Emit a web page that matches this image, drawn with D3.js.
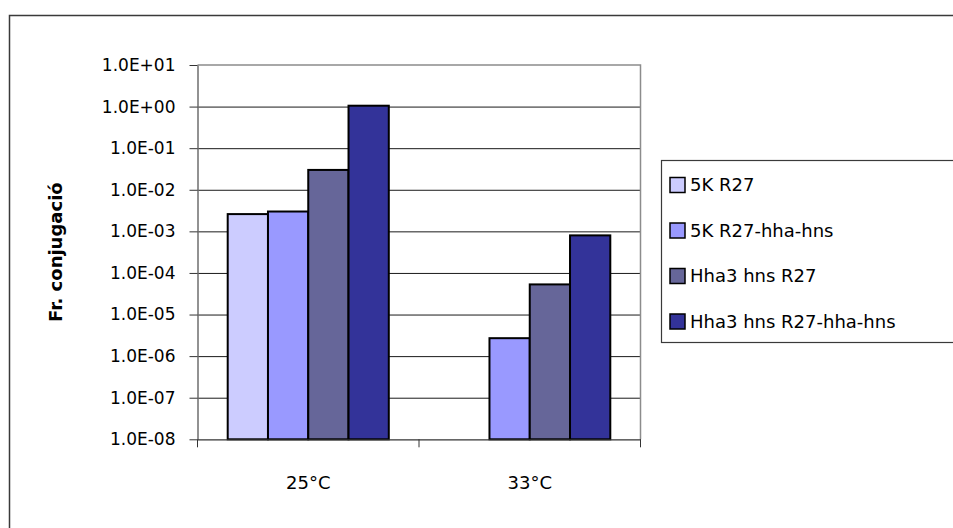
<!DOCTYPE html>
<html>
<head>
<meta charset="utf-8">
<script src="https://cdn.jsdelivr.net/npm/d3@7"></script>
<style>
  body { margin: 0; background: #fff; }
  svg text { font-family: "Comic Sans MS", "DejaVu Sans", sans-serif; fill: #000; }
</style>
</head>
<body>
<div id="chart"></div>
<script>

// data
let categories = ['25°C', '33°C'];
let seriesNames = ['5K R27', '5K R27-hha-hns', 'Hha3 hns R27', 'Hha3 hns R27-hha-hns'];
let seriesColors = ['#ccccff', '#9999ff', '#666699', '#333399'];
let s5kR27 = [2.6e-3, null];
let s5kR27hha = [3.0e-3, 2.7e-6];
let sHha3R27 = [3.0e-2, 5.3e-5];
let sHha3R27hha = [1.05, 8.0e-4];
let yTicks = [1e-8, 1e-7, 1e-6, 1e-5, 1e-4, 1e-3, 1e-2, 1e-1, 1e0, 1e1];

let allSeries = [s5kR27, s5kR27hha, sHha3R27, sHha3R27hha];

let svgWidth = 953;
let svgHeight = 528;

let svg = d3.select('#chart').append('svg')
    .attr('width', svgWidth)
    .attr('height', svgHeight);

// outer chart border (runs off the right and bottom edges)
svg.append('rect')
    .attr('x', 9.5).attr('y', 15.5)
    .attr('width', 1000).attr('height', 600)
    .attr('fill', 'none')
    .attr('stroke', '#3a3a3a')
    .attr('stroke-width', 1.5);

let plot = { left: 197.5, right: 640.5, top: 65, bottom: 439.3 };

let xScale = d3.scaleBand()
    .domain(categories)
    .range([plot.left, plot.right]);

let xInner = d3.scaleBand()
    .domain(seriesNames)
    .range([0, xScale.bandwidth()])
    .paddingOuter(0.75);

let yScale = d3.scaleLog()
    .domain([1e-8, 10])
    .range([plot.bottom, plot.top]);

function fmtExp(v) {
    let e = Math.round(Math.log10(v));
    let sign = e < 0 ? '-' : '+';
    let a = Math.abs(e);
    return '1.0E' + sign + (a < 10 ? '0' : '') + a;
}

// gridlines
svg.append('g')
    .attr('transform', `translate(${plot.left},0)`)
    .call(d3.axisLeft(yScale).tickValues(yTicks.slice(1, -1)).tickSize(-(plot.right - plot.left)).tickFormat(''))
    .call(g => g.select('.domain').remove())
    .call(g => g.selectAll('line').attr('stroke', '#1a1a1a').attr('stroke-width', 1));

// plot area top / right border
svg.append('path')
    .attr('d', `M${plot.left},${plot.top}H${plot.right}V${plot.bottom}`)
    .attr('fill', 'none')
    .attr('stroke', '#8c8c8c')
    .attr('stroke-width', 1.5);

// bars
allSeries.forEach((vals, si) => {
    svg.append('g')
        .selectAll('rect')
        .data(vals.map((v, ci) => ({ cat: categories[ci], v: v })).filter(d => d.v != null))
        .enter().append('rect')
        .attr('x', d => xScale(d.cat) + xInner(seriesNames[si]))
        .attr('y', d => yScale(d.v))
        .attr('width', xInner.bandwidth())
        .attr('height', d => yScale(1e-8) - yScale(d.v))
        .attr('fill', seriesColors[si])
        .attr('stroke', '#000')
        .attr('stroke-width', 2);
});

// y axis
svg.append('g')
    .attr('transform', `translate(${plot.left},0)`)
    .call(d3.axisLeft(yScale).tickValues(yTicks).tickFormat(fmtExp).tickSize(8).tickPadding(14).tickSizeOuter(0))
    .call(g => g.select('.domain').attr('stroke', '#6e6e6e').attr('stroke-width', 1.5))
    .call(g => g.selectAll('line').attr('stroke', '#333'))
    .call(g => g.selectAll('text').style('font-size', '17px'));

// x axis
svg.append('g')
    .attr('transform', `translate(0,${plot.bottom})`)
    .call(d3.axisBottom(xScale).tickSize(0).tickPadding(37))
    .call(g => g.select('.domain').attr('stroke', '#333').attr('stroke-width', 1.2))
    .call(g => g.selectAll('text').style('font-size', '18px'));

// category separators on x axis
svg.append('g')
    .selectAll('line')
    .data(categories.map(c => xScale(c)).concat([xScale.range()[1]]))
    .enter().append('line')
    .attr('x1', d => d).attr('x2', d => d)
    .attr('y1', plot.bottom).attr('y2', plot.bottom + 8)
    .attr('stroke', '#333');

// y axis title
svg.append('text')
    .attr('transform', `translate(62,${(plot.top + plot.bottom) / 2}) rotate(-90)`)
    .attr('text-anchor', 'middle')
    .style('font-size', '18px')
    .style('font-weight', 'bold')
    .text('Fr. conjugació');

// legend
let legend = svg.append('g');

legend.append('rect')
    .attr('x', 661.5).attr('y', 160.5)
    .attr('width', 400).attr('height', 182)
    .attr('fill', '#fff')
    .attr('stroke', '#3a3a3a')
    .attr('stroke-width', 1.2);

let legendY = d3.scalePoint()
    .domain(seriesNames)
    .range([185, 321.5]);

let items = legend.selectAll('g.item')
    .data(seriesNames)
    .enter().append('g')
    .attr('class', 'item')
    .attr('transform', d => `translate(670,${legendY(d)})`);

items.append('rect')
    .attr('x', 0).attr('y', -7.5)
    .attr('width', 15).attr('height', 15)
    .attr('fill', (d, i) => seriesColors[i])
    .attr('stroke', '#000')
    .attr('stroke-width', 1.5);

items.append('text')
    .attr('x', 20)
    .attr('dy', '0.35em')
    .style('font-size', '18px')
    .text(d => d);

</script>
</body>
</html>
